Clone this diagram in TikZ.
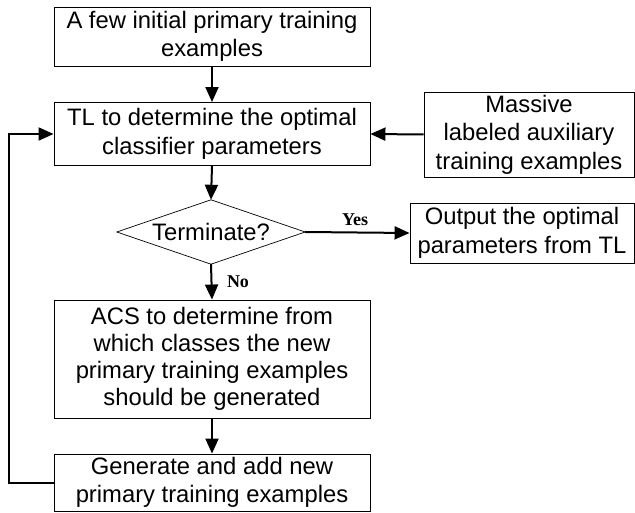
\documentclass[tikz,border=0pt]{standalone}
\usepackage{fontspec}
\setmainfont{Liberation Sans}
\newfontfamily\lblfont{Liberation Serif}
\usetikzlibrary{arrows.meta}
\begin{document}
\begin{tikzpicture}[x=1pt,y=-1pt,
  box/.style={draw,line width=0.9pt,rectangle,align=center,inner sep=0pt,
    font=\fontsize{23.8}{28.5}\selectfont},
  conn/.style={line width=2pt,-{Triangle[length=15pt,width=13pt]}},
  lbl/.style={font=\lblfont\bfseries\fontsize{18}{20}\selectfont,inner sep=0pt}]
\useasboundingbox (0,0) rectangle (635,513);
\node[box,minimum width=316pt,minimum height=59pt] (b1) at (212,36.5) {A few initial primary training\\examples};
\node[box,minimum width=316pt,minimum height=63pt] (b2) at (212,134) {TL to determine the optimal\\classifier parameters};
\node[box,minimum width=210pt,minimum height=85pt] (mass) at (529,134.5) {Massive\\labeled auxiliary\\training examples};
\node[rectangle,minimum width=188pt,minimum height=64pt,inner sep=0pt,
  font=\fontsize{23.8}{28.5}\selectfont] (dia) at (211,232) {Terminate?};
\draw[line width=0.7pt] (dia.north) -- (dia.east) -- (dia.south) -- (dia.west) -- cycle;
\node[box,minimum width=224pt,minimum height=60pt] (out) at (522,233) {Output the optimal\\parameters from TL};
\node[box,minimum width=316pt,minimum height=118pt,font=\fontsize{23.8}{27}\selectfont] (acs) at (212,359) {ACS to determine from\\which classes the new\\primary training examples\\should be generated};
\node[box,minimum width=316pt,minimum height=57pt] (gen) at (212,482.5) {Generate and add new\\primary training examples};
\coordinate (fb) at (9,482.5);
\draw[conn] (b1.south) -- (b2.north);
\draw[conn] (mass.west) -- (b2.east);
\draw[conn] (b2.south) -- (dia.north);
\draw[conn] (dia.east) -- (out.west);
\draw[conn] (dia.south) -- (acs.north);
\draw[conn] (acs.south) -- (gen.north);
\draw[conn] (gen.west) -- (fb) |- (b2.west);
\node[lbl] (yes) at (355,220) {Yes};
\node[lbl] (no) at (238,282) {No};
\end{tikzpicture}
\end{document}
